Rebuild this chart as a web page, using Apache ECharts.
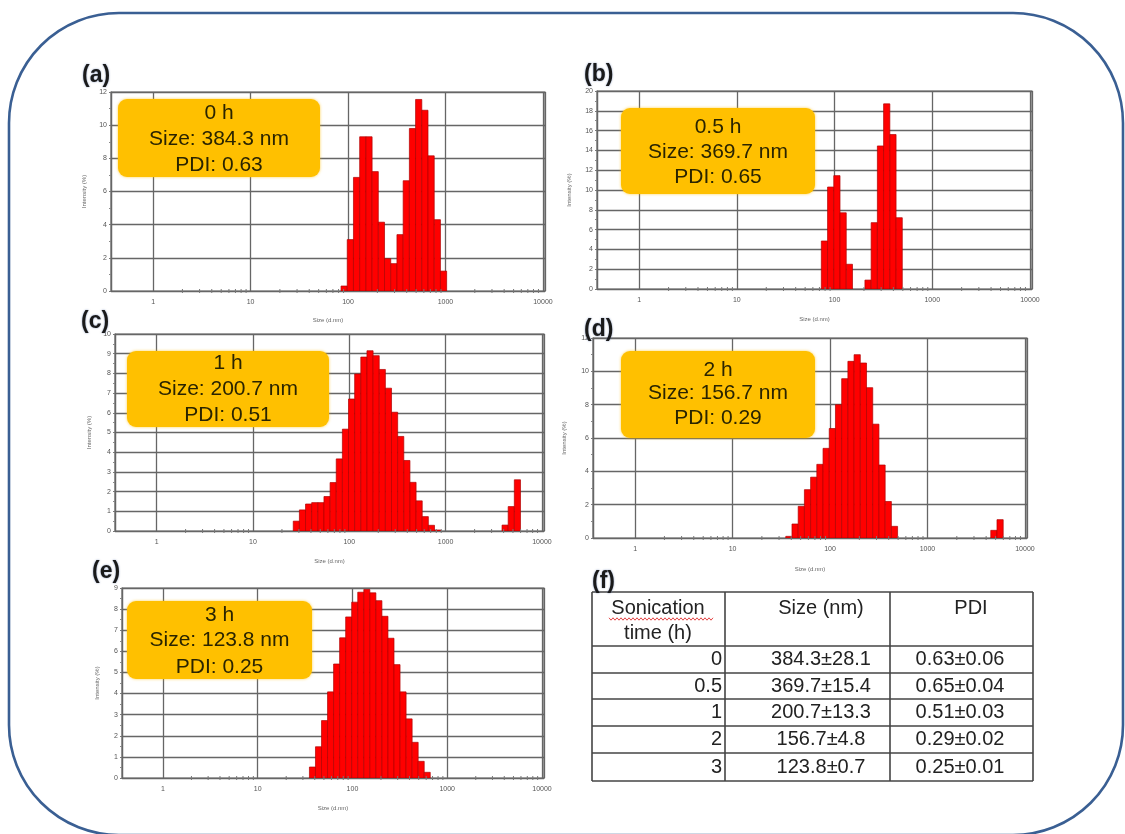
<!DOCTYPE html>
<html><head><meta charset="utf-8">
<script src="https://cdn.jsdelivr.net/npm/echarts@6/dist/echarts.min.js"></script>
<style>html,body{margin:0;padding:0;background:#fff}#c{width:1125px;height:834px}</style>
</head><body><div id="c"></div>
<script>
// ---------------- data ----------------
const sizesA = [91.28,105.7,122.4,141.8,164.2,190.1,220.2,255.0,295.3,342.0,396.1,458.7,531.2,615.1,712.4,825.0,955.4];
const intensityA = [0.3,3.1,6.85,9.3,9.3,7.2,4.15,1.95,1.65,3.4,6.65,9.8,11.55,10.9,8.15,4.3,1.2];
const sizesB = [78.82,91.28,105.7,122.4,141.8,220.2,255.0,295.3,342.0,396.1,458.7];
const intensityB = [4.85,10.3,11.45,7.7,2.5,0.9,6.7,14.45,18.7,15.6,7.2];
const sizesC = [28.21,32.67,37.84,43.82,50.75,58.77,68.06,78.82,91.28,105.7,122.4,141.8,164.2,190.1,220.2,255.0,295.3,342.0,396.1,458.7,531.2,615.1,712.4,825.0,4145,4801,5560];
const intensityC = [0.5,1.07,1.37,1.44,1.44,1.75,2.46,3.66,5.17,6.7,7.97,8.83,9.15,8.9,8.2,7.25,6.03,4.8,3.58,2.47,1.53,0.73,0.29,0.05,0.3,1.24,2.6];
const sizesD = [37.84,43.82,50.75,58.77,68.06,78.82,91.28,105.7,122.4,141.8,164.2,190.1,220.2,255.0,295.3,342.0,396.1,458.7,4801,5560];
const intensityD = [0.1,0.84,1.9,2.9,3.65,4.42,5.38,6.57,8.0,9.56,10.6,11.0,10.5,9.02,6.83,4.38,2.19,0.7,0.46,1.1];
const sizesE = [37.84,43.82,50.75,58.77,68.06,78.82,91.28,105.7,122.4,141.8,164.2,190.1,220.2,255.0,295.3,342.0,396.1,458.7,531.2,615.1];
const intensityE = [0.52,1.48,2.72,4.08,5.4,6.64,7.63,8.33,8.8,8.93,8.77,8.4,7.66,6.62,5.37,4.08,2.8,1.69,0.79,0.27];

const panelTags = ['(a)','(b)','(c)','(d)','(e)'];
const timeLabels = ['0 h','0.5 h','1 h','2 h','3 h'];
const sizeMean = ['384.3','369.7','200.7','156.7','123.8'];
const pdiMean = ['0.63','0.65','0.51','0.29','0.25'];
const sizeErr = ['28.1','15.4','13.3','4.8','0.7'];
const pdiErr = ['0.06','0.04','0.03','0.02','0.01'];
const sonicationTimes = ['0','0.5','1','2','3'];
const tableHeader = [['Sonication','time (h)'],['Size (nm)'],['PDI']];
const yMaxes = [12,20,10,12,9];
const ySteps = [2,2,1,2,1];
const xMinorTicks = [2,3,4,5,6,7,8,9,20,30,40,50,60,70,80,90,200,300,400,500,600,700,800,900,2000,3000,4000,5000,6000,7000,8000,9000];
const xAxisName = 'Size (d.nm)';
const yAxisName = 'Intensity (%)';

// ---------------- layout ----------------
const FONT = '"Liberation Sans", Arial, sans-serif';
const BIN_HALF = 1.0762; // half-width ratio of one log-spaced size class
const layout = [
  {grid:{left:111,top:92,width:434,height:199}, box:[118,99,202,78], lines:[113,139,165], tag:[82,76], yGap:24, xGap:26},
  {grid:{left:597,top:91,width:435,height:198}, box:[621,108,194,86], lines:[127,152,177], tag:[584,75], yGap:25, xGap:27},
  {grid:{left:115,top:334,width:429,height:197}, box:[127,351,202,76], lines:[363,389,415], tag:[81,322], yGap:23, xGap:27},
  {grid:{left:593,top:338,width:434,height:200}, box:[621,351,194,87], lines:[370,393,418], tag:[584,330], yGap:26, xGap:28},
  {grid:{left:122,top:588,width:422,height:190}, box:[127,601,185,78], lines:[615,640,667], tag:[92,572], yGap:22, xGap:27}
];
const allSizes = [sizesA,sizesB,sizesC,sizesD,sizesE];
const allVals = [intensityA,intensityB,intensityC,intensityD,intensityE];

function renderBar(params, api){
  const s = api.value(0), v = api.value(1);
  const p0 = api.coord([s / BIN_HALF, 0]);
  const p1 = api.coord([s * BIN_HALF, v]);
  return {type:'rect', shape:{x:p0[0], y:p1[1], width:p1[0]-p0[0], height:p0[1]-p1[1]},
    style:{fill:'#ff0000', stroke:'#b00000', lineWidth:0.7}};
}
function renderTick(params, api){
  const p = api.coord([api.value(0), 0]);
  return {type:'line', shape:{x1:p[0], y1:p[1]-2, x2:p[0], y2:p[1]+2}, style:{stroke:'#777', lineWidth:1}};
}

const grids=[], xAxes=[], yAxes=[], series=[], graphics=[];
layout.forEach((L,i)=>{
  grids.push(Object.assign({show:true, borderColor:'#666', borderWidth:1.2, containLabel:false}, L.grid));
  xAxes.push({type:'log', logBase:10, gridIndex:i, min:0.37, max:10500,
    name:xAxisName, nameLocation:'middle', nameGap:L.xGap, nameTextStyle:{fontSize:6, color:'#666', fontFamily:FONT},
    axisLine:{lineStyle:{color:'#666', width:1.2}}, axisTick:{show:false},
    axisLabel:{fontSize:7, color:'#555', fontFamily:FONT, margin:8,
      formatter:v=>{const l=Math.log10(v); return Math.abs(l-Math.round(l))<1e-6 ? String(Math.round(v)) : '';}},
    splitLine:{show:true, lineStyle:{color:'#666', width:1.3}}});
  yAxes.push({type:'value', gridIndex:i, min:0, max:yMaxes[i], interval:ySteps[i],
    name:yAxisName, nameLocation:'middle', nameGap:L.yGap, nameRotate:90, nameTextStyle:{fontSize:6, color:'#666', fontFamily:FONT},
    axisLine:{show:true, lineStyle:{color:'#666', width:1.2}}, axisTick:{show:true, length:2, lineStyle:{color:'#777'}},
    minorTick:{show:true, splitNumber:2, length:2, lineStyle:{color:'#888'}},
    axisLabel:{fontSize:7, color:'#555', fontFamily:FONT, margin:4},
    splitLine:{show:true, lineStyle:{color:'#666', width:1.3}}});
  series.push({type:'custom', xAxisIndex:i, yAxisIndex:i, renderItem:renderBar, clip:true,
    encode:{x:0,y:1}, data:allSizes[i].map((s,k)=>[s, allVals[i][k]]), z:3});
  series.push({type:'custom', xAxisIndex:i, yAxisIndex:i, renderItem:renderTick, silent:true,
    encode:{x:0}, data:xMinorTicks.map(t=>[t]), z:4});
  // annotation box
  const b = L.box;
  graphics.push({type:'rect', shape:{x:b[0], y:b[1], width:b[2], height:b[3], r:9},
    style:{fill:'#FFC000', shadowBlur:3, shadowColor:'rgba(255,190,0,0.7)'}, z:10});
  const txt = [timeLabels[i], 'Size: '+sizeMean[i]+' nm', 'PDI: '+pdiMean[i]];
  txt.forEach((t,k)=>graphics.push({type:'text', x:b[0]+b[2]/2, y:L.lines[k], z:11,
    style:{text:t, fill:'#2a2400', font:'21px '+FONT, align:'center', verticalAlign:'middle'}}));
  graphics.push({type:'text', x:L.tag[0], y:L.tag[1], z:12,
    style:{text:panelTags[i], fill:'#1a1a1a', font:'bold 23px '+FONT, align:'left', verticalAlign:'middle',
      textShadowColor:'rgba(60,90,150,0.6)', textShadowBlur:2}});
});

// (f) table
graphics.push({type:'text', x:592, y:582, z:12,
  style:{text:'(f)', fill:'#1a1a1a', font:'bold 23px '+FONT, align:'left', verticalAlign:'middle',
    textShadowColor:'rgba(60,90,150,0.6)', textShadowBlur:2}});
const colX = [592,725,890,1033];
const rowY = [592,646,673,699,726,753,781];
rowY.forEach(y=>graphics.push({type:'line', shape:{x1:colX[0], y1:y, x2:colX[3], y2:y}, style:{stroke:'#444', lineWidth:1.6}, z:10}));
colX.forEach(x=>graphics.push({type:'line', shape:{x1:x, y1:rowY[0], x2:x, y2:rowY[rowY.length-1]}, style:{stroke:'#444', lineWidth:1.6}, z:10}));
const tFont = '20px '+FONT;
const headCenters = [658, 821, 971];
tableHeader.forEach((lines,c)=>lines.forEach((t,k)=>graphics.push({type:'text', x:headCenters[c], y:608+k*25, z:11,
  style:{text:t, fill:'#222', font:tFont, align:'center', verticalAlign:'middle'}})));
// red spell-check squiggle under "Sonication"
const sq=[]; for(let x=609, k=0; x<=713; x+=2, k++) sq.push([x, 619 + (k%2 ? 1.2 : -1.2)]);
graphics.push({type:'polyline', shape:{points:sq}, style:{stroke:'#e03030', lineWidth:0.9, fill:null}, z:11});
sonicationTimes.forEach((t,r)=>{
  const yc = (rowY[r+1]+rowY[r+2])/2;
  graphics.push({type:'text', x:722, y:yc, z:11, style:{text:t, fill:'#222', font:tFont, align:'right', verticalAlign:'middle'}});
  graphics.push({type:'text', x:821, y:yc, z:11, style:{text:sizeMean[r]+'±'+sizeErr[r], fill:'#222', font:tFont, align:'center', verticalAlign:'middle'}});
  graphics.push({type:'text', x:960, y:yc, z:11, style:{text:pdiMean[r]+'±'+pdiErr[r], fill:'#222', font:tFont, align:'center', verticalAlign:'middle'}});
});
// outer rounded frame
graphics.push({type:'rect', shape:{x:9, y:13, width:1114, height:822, r:110},
  style:{fill:null, stroke:'#3a5f93', lineWidth:2.6}, z:20, silent:true});

const chart = echarts.init(document.getElementById('c'), null, {renderer:'canvas'});
chart.setOption({backgroundColor:'#fff', animation:false, grid:grids, xAxis:xAxes, yAxis:yAxes, series:series, graphic:graphics});
</script></body></html>
